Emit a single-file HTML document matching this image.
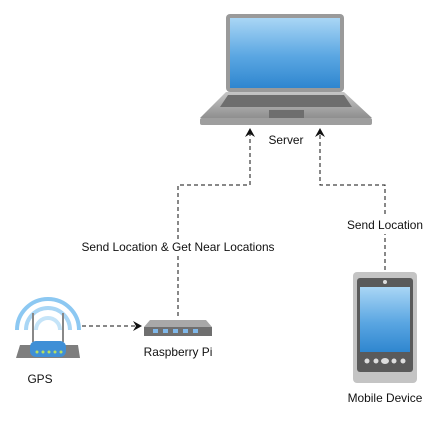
<!DOCTYPE html><html><head><style>body{margin:0;background:#fff}svg{display:block}text{font-family:"Liberation Sans",sans-serif;font-size:11.9px;fill:#111}</style></head><body>
<svg width="441" height="422" viewBox="0 0 441 422">
<defs>
<linearGradient id="scr" x1="0" y1="0" x2="0" y2="1"><stop offset="0" stop-color="#a9d6f5"/><stop offset="0.55" stop-color="#5aa6e2"/><stop offset="1" stop-color="#2f86cf"/></linearGradient>
<linearGradient id="base" x1="0" y1="0" x2="0" y2="1"><stop offset="0" stop-color="#c6c6c6"/><stop offset="1" stop-color="#8f8f8f"/></linearGradient>
<marker id="ar" markerWidth="10" markerHeight="10" refX="8" refY="5" orient="auto" markerUnits="userSpaceOnUse"><path d="M0,0 L9,5 L0,10 L3,5z" fill="#111"/></marker>
</defs>
<g fill="none" stroke="#111" stroke-width="1" stroke-dasharray="4,3">
<path d="M178,316 V185 H250 V129" marker-end="url(#ar)"/>
<path d="M385,270 V185 H320 V129" marker-end="url(#ar)"/>
<path d="M82,326 H141" marker-end="url(#ar)"/>
</g>
<!-- laptop -->
<rect x="226" y="14" width="118" height="78" rx="4" fill="#9a9a9a"/>
<rect x="230" y="18" width="110" height="70" fill="url(#scr)"/>
<path d="M226,92 H344 L372,118 H200 Z" fill="url(#base)"/>
<rect x="200" y="118" width="172" height="7" rx="2" fill="#9e9e9e"/>
<path d="M228,95 H344 L352,107 H220 Z" fill="#6e6e6e"/>
<rect x="269" y="110" width="35" height="8" fill="#6e6e6e"/>
<text x="286" y="144" text-anchor="middle">Server</text>
<rect x="80" y="239" width="198" height="17" fill="#fff"/>
<text x="178" y="251" text-anchor="middle">Send Location &amp; Get Near Locations</text>
<rect x="340" y="216" width="90" height="18" fill="#fff"/>
<text x="385" y="229" text-anchor="middle">Send Location</text>
<!-- GPS -->
<g fill="none" stroke="#8cc8f2" stroke-width="4">
<path d="M17,330 A31,31 0 1 1 79,330"/>
<path d="M26,330 A22,22 0 1 1 70,330" stroke="#a9d6f5"/>
<path d="M36,330 A12,12 0 1 1 60,330" stroke="#c5e4f8"/>
</g>
<line x1="33" y1="313" x2="33" y2="342" stroke="#888" stroke-width="2"/>
<line x1="63" y1="313" x2="63" y2="342" stroke="#888" stroke-width="2"/>
<path d="M20,345 H78 L80,358 H16 Z" fill="#7e7e7e"/>
<rect x="30" y="341" width="36" height="16" rx="6" fill="#3f8fd6"/>
<g fill="#b8e060"><circle cx="37" cy="352" r="1.5"/><circle cx="43" cy="352" r="1.5"/><circle cx="49" cy="352" r="1.5"/><circle cx="55" cy="352" r="1.5"/><circle cx="61" cy="352" r="1.5"/></g>
<text x="40" y="383" text-anchor="middle">GPS</text>
<!-- raspberry -->
<path d="M150,320 H206 L212,327 H144 Z" fill="#a8a8a8"/>
<rect x="144" y="327" width="68" height="9" fill="#6f6f6f"/>
<g fill="#7fb8ea"><rect x="153" y="329" width="5" height="4"/><rect x="163" y="329" width="5" height="4"/><rect x="173" y="329" width="5" height="4"/><rect x="183" y="329" width="5" height="4"/><rect x="193" y="329" width="5" height="4"/></g>
<text x="178" y="356" text-anchor="middle">Raspberry Pi</text>
<!-- phone -->
<rect x="353" y="272" width="64" height="111" rx="4" fill="#c4c4c4"/>
<rect x="357" y="278" width="56" height="94" rx="3" fill="#5a5a5a"/>
<rect x="360" y="287" width="50" height="65" fill="url(#scr)"/>
<circle cx="385" cy="282" r="2" fill="#ddd"/>
<g fill="#ddd"><circle cx="367" cy="361" r="2.5"/><circle cx="376" cy="361" r="2.5"/><ellipse cx="385" cy="361" rx="4" ry="3"/><circle cx="394" cy="361" r="2.5"/><circle cx="403" cy="361" r="2.5"/></g>
<text x="385" y="402" text-anchor="middle">Mobile Device</text>
</svg></body></html>
